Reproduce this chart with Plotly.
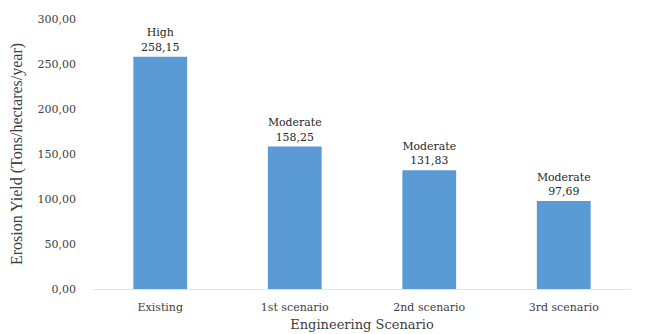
import plotly.graph_objects as go

scenarios = ["Existing", "1st scenario", "2nd scenario", "3rd scenario"]
erosion_yield = [258.15, 158.25, 131.83, 97.69]
erosion_class = ["High", "Moderate", "Moderate", "Moderate"]
y_ticks = [0, 50, 100, 150, 200, 250, 300]

labels = [
    f"{c}<br>{v:.2f}".replace(".", ",") for c, v in zip(erosion_class, erosion_yield)
]

serif = "DejaVu Serif"
text_color = "#404040"

fig = go.Figure(
    go.Bar(
        x=scenarios,
        y=erosion_yield,
        marker=dict(color="#5B9BD5", line=dict(width=0)),
        width=0.4,
        text=labels,
        textposition="outside",
        textfont=dict(family=serif, size=11, color="#262626"),
        cliponaxis=False,
    )
)

fig.update_layout(
    width=659,
    height=334,
    margin=dict(l=93, r=28, t=19, b=45, autoexpand=False),
    plot_bgcolor="white",
    paper_bgcolor="white",
    separators=",.",
    showlegend=False,
    font=dict(family=serif, size=12, color=text_color),
    xaxis=dict(
        automargin=False,
        title=dict(text="Engineering Scenario", standoff=6,
                   font=dict(family=serif, size=13, color=text_color)),
        showline=True,
        linecolor="#e3e3e3",
        linewidth=1,
        ticks="",
        ticklabelstandoff=8,
        tickfont=dict(family=serif, size=11, color=text_color),
    ),
    yaxis=dict(
        automargin=False,
        title=dict(text="Erosion Yield (Tons/hectares/year)", standoff=10,
                   font=dict(family="Liberation Serif", size=16, color=text_color)),
        range=[0, 300],
        tickvals=y_ticks,
        tickformat=".2f",
        showgrid=False,
        zeroline=False,
        showline=False,
        ticks="",
        ticklabelstandoff=16,
        tickfont=dict(family=serif, size=11, color=text_color),
    ),
)

fig.write_html("out.html")
